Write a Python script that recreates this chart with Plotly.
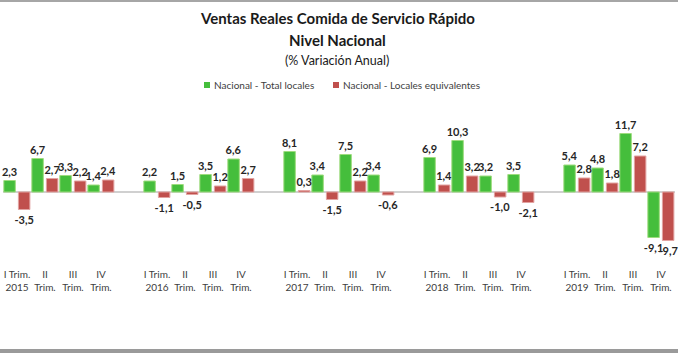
import plotly.graph_objects as go

years = ["2015", "2016", "2017", "2018", "2019"]
quarters = ["I Trim.", "II", "III", "IV"]
total_locales = [2.3, 6.7, 3.3, 1.4,
                 2.2, 1.5, 3.5, 6.6,
                 8.1, 3.4, 7.5, 3.4,
                 6.9, 10.3, 3.2, 3.5,
                 5.4, 4.8, 11.7, -9.1]
locales_equiv = [-3.5, 2.7, 2.2, 2.4,
                 -1.1, -0.5, 1.2, 2.7,
                 0.3, -1.5, 2.2, -0.6,
                 1.4, 3.2, -1.0, -2.1,
                 2.8, 1.8, 7.2, -9.7]
series_names = ["Nacional - Total locales", "Nacional - Locales equivalentes"]
series_colors = ["#45BE3C", "#C0504D"]
series_edges = ["#9EDC7E", "#E2A3A1"]

# category positions: 4 quarters per year, one empty slot between years
xpos = []
ticktext = []
for k, yr in enumerate(years):
    for q, qn in enumerate(quarters):
        xpos.append(k * 5 + q)
        if q == 0:
            ticktext.append(f"I Trim.<br>{yr}")
        else:
            ticktext.append(f"{qn}<br>Trim.")

def fmt(v):
    return f"{v:.1f}".replace(".", ",")

W, H = 678, 355
ML, MR, MT, MB = 3, 3, 117, 88
PW = W - ML - MR
PH = H - MT - MB

def px_x(px):
    return (px - ML) / PW

def px_y(py):
    return (H - MB - py) / PH

FONT = "Lato"

fig = go.Figure()
offsets = [-0.47, 0.05]
for i, vals in enumerate([total_locales, locales_equiv]):
    fig.add_trace(go.Bar(
        x=xpos, y=vals, name=series_names[i],
        offset=offsets[i], width=0.41,
        marker=dict(color=series_colors[i], line=dict(color=series_edges[i], width=1)),
        text=[fmt(v) for v in vals], textposition="outside",
        textfont=dict(family=FONT, size=11, color="#262626", weight="bold"),
        constraintext="none", cliponaxis=False, showlegend=False,
    ))

annotations = [
    dict(text="<b>Ventas Reales Comida de Servicio Rápido</b>", x=px_x(337), y=px_y(18),
         font=dict(size=15, color="#1a1a1a")),
    dict(text="<b>Nivel Nacional</b>", x=px_x(337), y=px_y(40),
         font=dict(size=15, color="#1a1a1a")),
    dict(text="(% Variación Anual)", x=px_x(337), y=px_y(60),
         font=dict(size=12.5, color="#1a1a1a")),
]
for a in annotations:
    a.update(xanchor="center")

# legend entries (square + label)
legend_sq_x = [204, 333]
shapes = []
for i, name in enumerate(series_names):
    sx = legend_sq_x[i]
    shapes.append(dict(type="rect", xref="paper", yref="paper",
                       x0=px_x(sx), x1=px_x(sx + 6), y0=px_y(82), y1=px_y(88),
                       fillcolor=series_colors[i], line=dict(width=0)))
    annotations.append(dict(text=name, x=px_x(sx + 8), y=px_y(85), xanchor="left",
                            font=dict(size=10, color="#404040")))

for a in annotations:
    a.update(xref="paper", yref="paper", showarrow=False, yanchor="middle")
    a["font"]["family"] = FONT

shapes += [
    dict(type="rect", xref="paper", yref="paper", x0=px_x(0), x1=px_x(W), y0=px_y(0), y1=px_y(2),
         fillcolor="#A6A6A6", line=dict(width=0), layer="above"),
    dict(type="rect", xref="paper", yref="paper", x0=px_x(0), x1=px_x(W), y0=px_y(349), y1=px_y(353),
         fillcolor="#9A9A9A", line=dict(width=0), layer="above"),
]

fig.update_layout(
    width=W, height=H,
    margin=dict(l=ML, r=MR, t=MT, b=MB, pad=0, autoexpand=False),
    paper_bgcolor="white", plot_bgcolor="white",
    font=dict(family=FONT, color="#404040"),
    barmode="group",
    showlegend=False,
    xaxis=dict(tickmode="array", tickvals=xpos, ticktext=ticktext, range=[-0.5, 23.5],
               showgrid=False, zeroline=False, showline=False, ticks="", automargin=False,
               tickfont=dict(size=10, color="#404040", family=FONT), tickangle=0),
    yaxis=dict(range=[-15, 15], showgrid=False, showticklabels=False, ticks="", automargin=False,
               zeroline=True, zerolinecolor="#D0D0D0", zerolinewidth=1.5, showline=False),
    annotations=annotations,
    shapes=shapes,
)

fig.write_html("out.html", config={"displayModeBar": False},
               post_script="document.body.style.margin='0';document.body.style.overflow='hidden';")
